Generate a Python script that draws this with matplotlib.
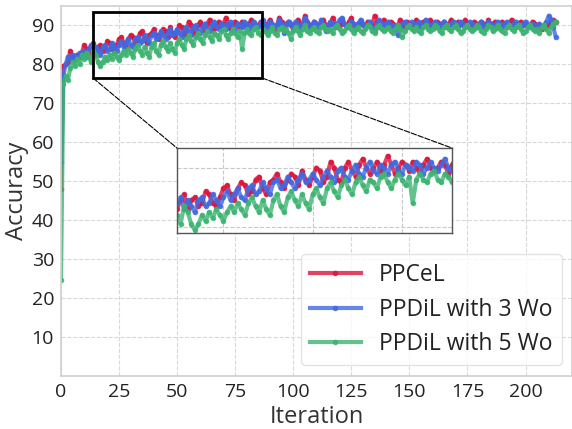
import matplotlib.pyplot as plt
import numpy as np
from matplotlib.patches import Rectangle, ConnectionPatch

plt.rcParams['font.family'] = ['Open Sans', 'DejaVu Sans']

labels = ['PPCeL', 'PPDiL with 3 Wo', 'PPDiL with 5 Wo']
colors = ['#DC143C', '#4169E1', '#3CB371']

ppcel = [48, 79.5, 80, 80.5, 83.5, 82, 81.5, 82.5, 82, 83,
         85, 84, 83, 84.5, 85.5, 83, 84.5, 85, 83.5, 84,
         86, 85.5, 84, 83.5, 85, 86.5, 87, 85.5, 84.5, 86.5,
         87.5, 87, 85.5, 86, 88, 88.5, 86.5, 85.5, 87.5, 88,
         89, 87.5, 86.5, 88, 89, 88.5, 87, 89.5, 88, 87,
         88.5, 90, 89.5, 87.5, 88.5, 91, 90, 88, 87.5, 90,
         91, 89.5, 88.5, 90.5, 91.5, 90, 89, 90, 91, 89.5,
         90.5, 92, 90.5, 89, 90, 91, 90.5, 89.5, 91, 90,
         89, 90.5, 91.5, 90, 89.5, 90, 91, 90.5, 89, 90.5,
         91.5, 90, 89, 90, 92, 91, 89.5, 90.5, 91, 90,
         89, 90.5, 91.5, 90, 89.5, 92.5, 91, 90, 89.5, 91,
         90.5, 89.5, 90.5, 91.5, 90, 89, 90.5, 92, 90.5, 89.5,
         90, 91.5, 90.5, 89.5, 91, 92, 90, 89.5, 90.5, 91,
         90, 89.5, 91, 90.5, 90, 92.5, 91, 89.5, 90.5, 91.5,
         90, 89.5, 91, 90.5, 89.5, 90, 91.5, 90.5, 89.5, 91,
         90.5, 89.5, 90, 91.5, 90.5, 89.5, 91, 90, 90.5, 91.5,
         90, 89.5, 91, 90.5, 90, 91, 89.5, 90.5, 91.5, 90,
         89.5, 91, 90.5, 90, 91.5, 90.5, 89.5, 90, 91, 90.5,
         90, 91, 90.5, 89.5, 91.5, 90, 90.5, 91, 89.5, 90.5,
         91, 90, 89.5, 90.5, 91.5, 90, 89.5, 90.5, 91, 90,
         90.5, 89.5, 90, 91, 90.5, 89.5, 90, 89, 90, 89.5,
         90, 91, 91.5, 91]

ppdil3 = [55, 77, 80, 82, 81.5, 82.5, 81, 82, 83, 82,
          83.5, 82, 84, 85, 83, 84.5, 83.5, 82.5, 84.5, 85,
          83.5, 84, 85.5, 84.5, 83.5, 85, 86, 84.5, 85.5, 86.5,
          85, 84.5, 86.5, 87, 85.5, 86, 87.5, 86.5, 85.5, 87.5,
          88, 86.5, 87, 88.5, 87.5, 86.5, 88, 89, 87.5, 88,
          89, 88, 87, 88.5, 89.5, 88.5, 87.5, 89.5, 90, 88.5,
          88, 89.5, 90.5, 89, 88.5, 90, 91, 89.5, 89, 90.5,
          90, 89, 90.5, 91, 89.5, 89, 90.5, 90, 89.5, 91,
          90.5, 89, 90, 91, 90, 89.5, 90.5, 91.5, 90, 89.5,
          91, 90.5, 89.5, 90, 91.5, 90.5, 88, 90, 91, 90.5,
          89.5, 91, 90, 89, 90.5, 92, 91, 89.5, 90, 91,
          90.5, 89.5, 91.5, 90, 88.5, 90, 91, 90.5, 89.5, 90.5,
          91.5, 92, 90.5, 89.5, 90, 91, 90.5, 89, 90.5, 91.5,
          90.5, 89.5, 90, 91, 89.5, 88.5, 90, 91.5, 90.5, 89.5,
          90.5, 91, 89.5, 90, 89, 87.5, 89, 90.5, 91, 90,
          89.5, 91, 90.5, 90, 91, 89.5, 90, 91.5, 90.5, 89.5,
          90, 91, 90.5, 89.5, 90.5, 91, 90, 89.5, 90.5, 91,
          90, 89.5, 91, 90.5, 89.5, 90, 91, 90.5, 90, 89.5,
          90.5, 91, 89.5, 90, 91, 90.5, 89.5, 90, 91, 90.5,
          89.5, 90.5, 91, 90, 89.5, 90.5, 91, 90, 89.5, 90.5,
          91, 90, 89.5, 90.5, 89, 90, 90.5, 89.5, 90, 91,
          92.5, 91.5, 89.5, 87]

ppdil5 = [24.5, 75, 77, 76, 79, 80.5, 79.5, 81.5, 80, 82.5,
          81.5, 83, 82, 80.5, 83.5, 82.5, 80.5, 79.5, 80.5, 82,
          81, 82.5, 81.5, 83, 82, 81, 82.5, 83.5, 82.5, 84,
          83, 82, 84, 85, 83.5, 82.5, 84.5, 83, 82, 84.5,
          85.5, 83.5, 82.5, 85, 86, 84.5, 83.5, 85.5, 84, 83,
          85.5, 86.5, 85, 84, 86.5, 87.5, 86, 85, 87, 88,
          86.5, 85.5, 87.5, 88.5, 87, 86, 88, 87.5, 86.5, 88.5,
          89, 87.5, 86.5, 88, 89, 88, 87, 88.5, 84, 88,
          89, 88, 87.5, 89, 89.5, 88, 87.5, 89, 88.5, 87.5,
          88.5, 89.5, 88, 87.5, 89, 89.5, 88.5, 89, 88, 86.5,
          88.5, 89.5, 88.5, 87.5, 89, 90, 88.5, 88, 89, 89.5,
          88.5, 88, 89.5, 90, 89, 88.5, 89, 88, 89.5, 90,
          89, 88, 88.5, 89.5, 90, 89, 88, 89, 89.5, 88.5,
          88, 89, 90, 89.5, 88.5, 88, 89.5, 90, 89, 88.5,
          89, 89.5, 88.5, 88, 89, 90, 89, 87, 88.5, 89.5,
          90, 89, 88.5, 89.5, 88.5, 88, 89.5, 90, 89, 88.5,
          89, 90, 89.5, 88.5, 88, 89.5, 90, 89, 88.5, 89.5,
          90, 89, 88, 88.5, 89.5, 90, 89, 88.5, 89, 90,
          89.5, 88.5, 88, 89, 90, 89.5, 88.5, 89, 90, 89,
          88.5, 88, 89.5, 90, 89, 88.5, 89.5, 90, 89, 88,
          88.5, 89.5, 90, 89, 88.5, 89, 88, 89.5, 90, 89,
          88, 89.5, 90.5, 91]

series = [ppcel, ppdil3, ppdil5]
iters = np.arange(len(ppcel))

zoom_x = (13.8, 86.6) #region marked on the main axes
zoom_y = (76.5, 93.5)

fig = plt.figure(figsize=(5.72, 4.29), dpi=100)
ax = fig.add_axes([0.1066, 0.1245, 0.8934, 0.8615])

for s, c, l in zip(series, colors, labels):
    ax.plot(iters, s, color=c, lw=3, alpha=0.8, marker='o', ms=3, label=l)

ax.set_xlim(0, 220)
ax.set_ylim(0, 95)
ax.set_xticks(range(0, 201, 25))
ax.set_yticks(range(10, 91, 10))
ax.tick_params(labelsize=14, length=0, colors='#222222', pad=5)
ax.grid(True, ls='--', color='#d8d8d8', lw=0.8)
for sp in ax.spines.values():
    sp.set_color('#d0d0d0')
    sp.set_linewidth(1.2)
ax.set_xlabel('Iteration', fontsize=17, color='#333333', labelpad=3)
ax.set_ylabel('Accuracy', fontsize=17, color='#333333', labelpad=2)

leg = ax.legend(loc='lower right', fontsize=16.5, handlelength=2.2, numpoints=1,
                labelspacing=0.45, borderaxespad=0.45, framealpha=0.8, edgecolor='#dddddd')
for t in leg.get_texts():
    t.set_color('#222222')

#zoom box on the main axes
ax.add_patch(Rectangle((zoom_x[0], zoom_y[0]), zoom_x[1] - zoom_x[0], zoom_y[1] - zoom_y[0],
                       fill=False, ec='black', lw=2, zorder=5))

ins = fig.add_axes([0.3094, 0.4569, 0.4808, 0.198])
for s, c in zip(series, colors):
    ins.plot(iters, s, color=c, lw=3, alpha=0.8, marker='o', ms=3)
ins.set_xlim(12, 89)
ins.set_ylim(79, 93.3)
ins.set_xticks([25, 50, 75])
ins.set_yticks([80, 90])
ins.set_xticklabels([])
ins.set_yticklabels([])
ins.tick_params(length=0)
ins.grid(True, ls='--', color='#c8c8c8', lw=0.8)
for sp in ins.spines.values():
    sp.set_color('#555555')
    sp.set_linewidth(1.0)

#lines from the box corners to the inset
for xc, fx in [(zoom_x[0], 0), (zoom_x[1], 1)]:
    con = ConnectionPatch(xyA=(xc, zoom_y[0]), coordsA=ax.transData,
                          xyB=(fx, 1), coordsB=ins.transAxes,
                          color='black', lw=0.8, ls=(0, (5, 1.5)))
    fig.add_artist(con)

fig.savefig('out.png', dpi=100)
